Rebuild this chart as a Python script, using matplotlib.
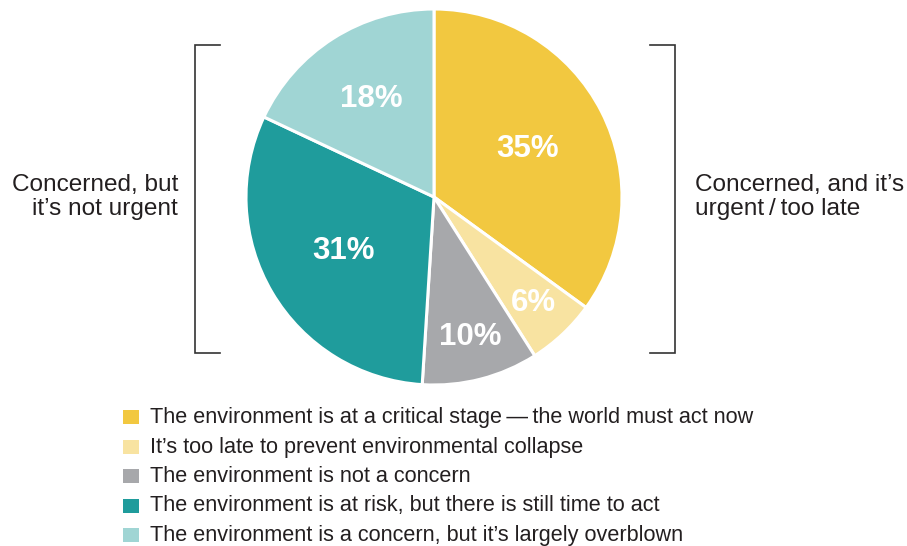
import matplotlib
matplotlib.use("Agg")
import matplotlib.pyplot as plt
from matplotlib.patches import Rectangle
import numpy as np

plt.rcParams['font.family'] = ['Liberation Sans', 'DejaVu Sans']

categories = [
    "The environment is at a critical stage\u2009\u2014\u2009the world must act now",
    "It\u2019s too late to prevent environmental collapse",
    "The environment is not a concern",
    "The environment is at risk, but there is still time to act",
    "The environment is a concern, but it\u2019s largely overblown",
]
values = [35, 6, 10, 31, 18]
pct_labels = ["35%", "6%", "10%", "31%", "18%"]
colors = ["#F2C840", "#F8E3A1", "#A7A8AB", "#1F9C9C", "#A0D5D4"]
label_dist = [0.56, 0.77, 0.77, 0.56, 0.62]
left_label = "Concerned, but\nit\u2019s not urgent"
right_label = "Concerned, and it\u2019s\nurgent\u2009/\u2009too late"

W, H = 907, 546
fig = plt.figure(figsize=(W / 100, H / 100), dpi=100)

ov = fig.add_axes([0, 0, 1, 1])
ov.set_xlim(0, W)
ov.set_ylim(H, 0)
ov.axis('off')

cx, cy, R = 434, 197, 188
ax = fig.add_axes([(cx - R) / W, 1 - (cy + R) / H, 2 * R / W, 2 * R / H])
wedges, _ = ax.pie(values, colors=colors, startangle=90, counterclock=False,
                   radius=1.0,
                   wedgeprops=dict(edgecolor='white', linewidth=2.2))
ax.set_xlim(-1, 1)
ax.set_ylim(-1, 1)
ax.set_aspect('equal')
ax.axis('off')

for w, lab, d in zip(wedges, pct_labels, label_dist):
    ang = np.deg2rad((w.theta1 + w.theta2) / 2)
    ax.text(d * np.cos(ang), d * np.sin(ang), lab, ha='center', va='center',
            color='white', fontsize=22.5, fontweight='bold')

bc = '#333333'
ov.plot([220, 195, 195, 220], [44.5, 44.5, 353, 353], color=bc, lw=1.2,
        solid_joinstyle='miter')
ov.plot([650, 675, 675, 650], [44.5, 44.5, 353, 353], color=bc, lw=1.2,
        solid_joinstyle='miter')

ov.text(178, 197, left_label, ha='right', va='center', fontsize=17.6,
        color='#231F20', linespacing=1.08)
ov.text(695, 197, right_label, ha='left', va='center', fontsize=17.6,
        color='#231F20', linespacing=1.08)

ys = [417, 447, 476, 506, 535]
for y, c, t in zip(ys, colors, categories):
    ov.add_patch(Rectangle((123, y - 7), 16, 14, facecolor=c, edgecolor='none'))
    ov.text(150, y, t, ha='left', va='center', fontsize=15.6, color='#231F20')

fig.savefig('out.png', dpi=100)
